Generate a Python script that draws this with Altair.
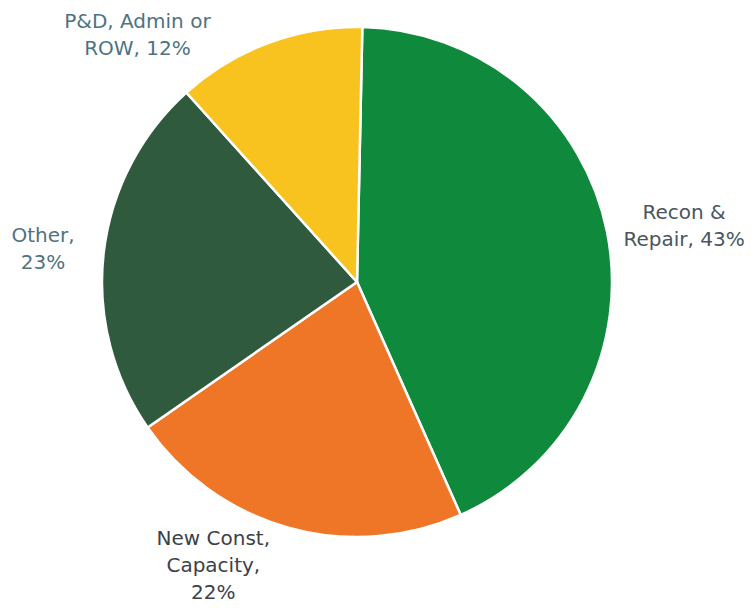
import math
import altair as alt
import pandas as pd

categories = ["Recon &\nRepair", "New Const,\nCapacity", "Other", "P&D, Admin or\nROW"]
values = [43, 22, 23, 12]
label_sep = [", ", ",\n", ",\n", ", "]
colors = ["#0f8a3c", "#ee7626", "#2f5a3e", "#f9c31f"]
text_colors = ["#4a5560", "#3a4248", "#4f7282", "#4f7282"]

df = pd.DataFrame({
    "category": categories,
    "value": values,
    "sep": label_sep,
    "order": list(range(len(categories))),
})

off = math.radians(1.2)
theta_range = [off, off + 2 * math.pi]
CX, CY, R = 349, 274, 255
LH = 27

arc = alt.Chart(df).mark_arc(outerRadius=R, stroke="white", strokeWidth=2.5).encode(
    theta=alt.Theta("value:Q", stack=True, scale=alt.Scale(domain=[0, 100], range=theta_range)),
    color=alt.Color("category:N", scale=alt.Scale(domain=categories, range=colors), legend=None),
    order=alt.Order("order:Q"),
    x=alt.value(CX),
    y=alt.value(CY),
)

# label offsets from the radial anchor: (dx, dy, number of lines)
offsets = [(33, 4, 2), (-63, -5, 3), (-16, 2, 2), (-115, 35, 2)]

layers = [arc]
for i, cat in enumerate(categories):
    dx, dy, n = offsets[i]
    dy = dy - (n - 1) * LH / 2
    t = alt.Chart(df).transform_window(
        cum="sum(value)", sort=[alt.SortField("order")]
    ).transform_calculate(
        mid="datum.cum - datum.value / 2",
        label="datum.category + datum.sep + datum.value + '%'",
    ).transform_filter(
        alt.datum.order == i
    ).mark_text(
        radius=300, font="DejaVu Sans", fontSize=20, lineBreak="\n", lineHeight=LH,
        align="center", baseline="middle", color=text_colors[i], dx=dx, dy=dy,
    ).encode(
        theta=alt.Theta("mid:Q", scale=alt.Scale(domain=[0, 100], range=theta_range)),
        text="label:N",
        x=alt.value(CX),
        y=alt.value(CY),
    )
    layers.append(t)

chart = alt.layer(*layers).resolve_scale(theta="independent").properties(
    width=740, height=596, autosize=alt.AutoSizeParams(type="none"), padding=0,
    background="white",
).configure_view(stroke=None)

chart.save("out.html", embed_options={"renderer": "svg", "actions": False})
